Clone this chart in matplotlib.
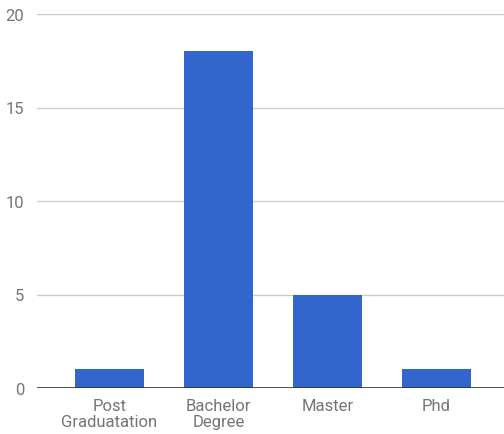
import matplotlib.pyplot as plt
import numpy as np

categories = ["Post\nGraduatation", "Bachelor\nDegree", "Master", "Phd"]
values = [1, 18, 5, 1]
yticks = [0, 5, 10, 15, 20]

plt.rcParams['font.family'] = ['Roboto', 'DejaVu Sans']

fig = plt.figure(figsize=(5.04, 4.35), dpi=100)
ax = fig.add_axes([37/504, 46/435, 1 - 37/504, (389-15)/435])

x = np.arange(len(categories))
ax.bar(x, values, width=0.633, color="#3366cc", zorder=3)

ax.set_ylim(0, 20)
ax.set_xlim(-0.665, 3.62)
ax.set_yticks(yticks)
ax.set_xticks(x)
ax.set_xticklabels(categories, linespacing=1.1)

ax.grid(axis="y", color="#cccccc", linewidth=1, zorder=0)
ax.axhline(0, color="#333333", linewidth=1.2, zorder=4)
for s in ax.spines.values():
    s.set_visible(False)
ax.tick_params(length=0, labelsize=12, colors="#757575")
ax.tick_params(axis="y", pad=9)
ax.tick_params(axis="x", pad=7)

fig.savefig("out.png", dpi=100)
